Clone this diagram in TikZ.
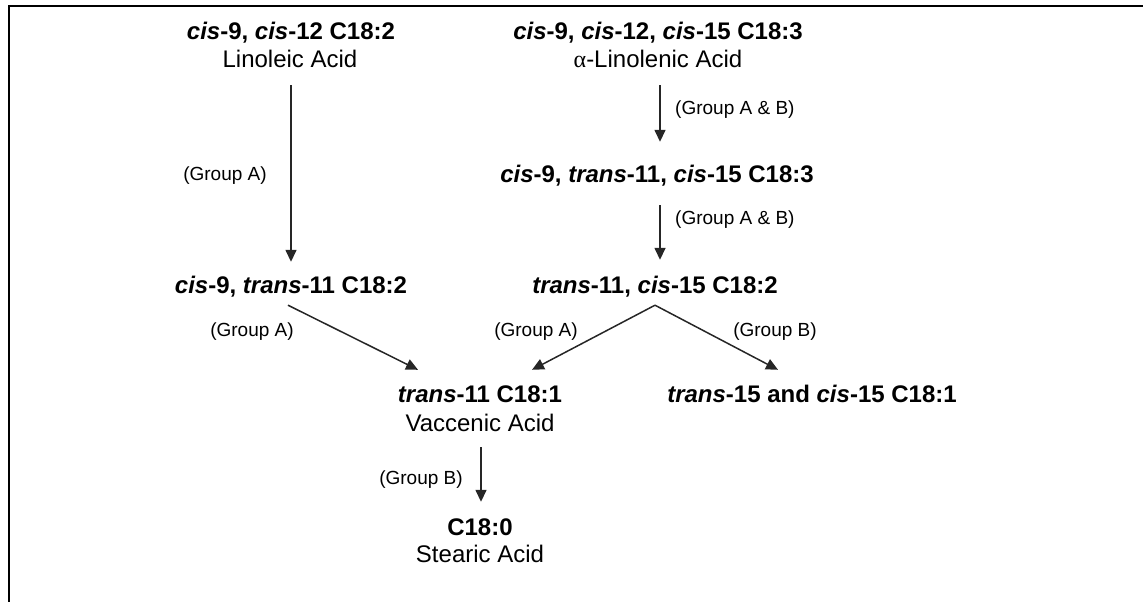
\documentclass[tikz,border=0pt]{standalone}
\usepackage{fontspec}
\setmainfont{Liberation Sans}
\newfontfamily\greekserif{Liberation Serif}
\usetikzlibrary{arrows.meta,calc}

\begin{document}
\begin{tikzpicture}[x=1pt,y=-1pt,
  acid/.style={font=\fontsize{24}{28}\selectfont\bfseries, inner sep=0pt, anchor=base,
               text height=17pt, text depth=5pt},
  trivial/.style={font=\fontsize{24}{28}\selectfont, inner sep=0pt, anchor=base,
               text height=17pt, text depth=5pt},
  grp/.style={font=\fontsize{19}{22}\selectfont, inner sep=0pt},
  conv/.style={draw=black!85, line width=1.5pt, -{Triangle[length=12pt,width=11pt]}},
  framing/.style={line width=2.2pt}]

\useasboundingbox (0,0) rectangle (1143,602);
\draw[framing] (9,602) -- (9,6) -- (1143,6);

% fatty acids
\node[acid]    (lin)  at (291,39.5) {\textit{cis}-9, \textit{cis}-12 C18:2};
\node[trivial] (linN) at (290,67.5) {Linoleic Acid};
\node[acid]    (lnn)  at (658,39.5) {\textit{cis}-9, \textit{cis}-12, \textit{cis}-15 C18:3};
\node[trivial] (lnnN) at (658,67.5) {{\greekserif α}-Linolenic Acid};
\node[acid]    (mid)  at (657,182) {\textit{cis}-9, \textit{trans}-11, \textit{cis}-15 C18:3};
\node[acid]    (cla)  at (291,293) {\textit{cis}-9, \textit{trans}-11 C18:2};
\node[acid]    (tc)   at (655,293) {\textit{trans}-11, \textit{cis}-15 C18:2};
\node[acid]    (vac)  at (480,402) {\textit{trans}-11 C18:1};
\node[trivial] (vacN) at (480,431) {Vaccenic Acid};
\node[acid]    (t15)  at (812,402) {\textit{trans}-15 and \textit{cis}-15 C18:1};
\node[acid]    (ste)  at (480,535) {C18:0};
\node[trivial] (steN) at (480,562) {Stearic Acid};

% conversions
\draw[conv] ($(linN.south)+(1,12.5)$) -- ($(cla.north)+(0,-14)$);
\draw[conv] ($(lnnN.south)+(2,12.5)$) -- ($(mid.north)+(3,-23)$);
\draw[conv] ($(mid.south)+(3,18)$) -- ($(tc.north)+(5,-16)$);
\draw[conv] ($(cla.south)+(-3,7)$) -- ($(vac.north)+(-62,-15)$);
\draw[conv] ($(tc.south)+(0,7)$) -- ($(vac.north)+(52,-15)$);
\draw[conv] ($(tc.south)+(0,7)$) -- ($(t15.north)+(-34,-15)$);
\draw[conv] ($(vacN.south)+(1,11)$) -- ($(ste.north)+(1,-16)$);

% bacterial groups
\node[grp] (g1) at (225,176) {(Group A)};
\node[grp, anchor=west] (g2) at (675,110) {(Group A \& B)};
\node[grp, anchor=west] (g3) at (675,220) {(Group A \& B)};
\node[grp] (g4) at (252,332) {(Group A)};
\node[grp] (g5) at (536,332) {(Group A)};
\node[grp] (g6) at (775,332) {(Group B)};
\node[grp] (g7) at (421,480) {(Group B)};
\end{tikzpicture}
\end{document}
